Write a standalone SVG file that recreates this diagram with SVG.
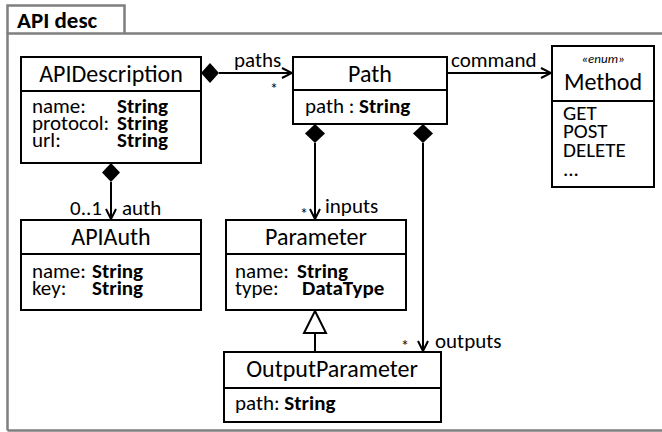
<svg xmlns="http://www.w3.org/2000/svg" width="662" height="432" viewBox="0 0 662 432">
<defs>
<style>
text{font-family:Carlito,Lato,sans-serif;fill:#000}
.t{font-size:24px}
.a{font-size:21px}
.l{font-size:21px}
.s{font-size:16px}
.b{font-weight:bold}
.box{fill:#fff;stroke:#000;stroke-width:2}
.ln{fill:none;stroke:#000;stroke-width:2}
.frame{fill:none;stroke:#7f7f7f;stroke-width:2.5}
</style>
<marker id="open" viewBox="0 0 12 12" refX="11" refY="6" markerWidth="12" markerHeight="12" markerUnits="userSpaceOnUse" orient="auto">
<path d="M1,1 L11,6 L1,11" fill="none" stroke="#000" stroke-width="2"/>
</marker>
</defs>
<rect width="662" height="432" fill="#fff"/>
<g id="frame">
<path class="frame" d="M7.5,430.5 L7.5,33.5 L665,33.5 M7.5,430.5 L665,430.5"/>
<path class="frame" d="M7.5,33.5 L7.5,5.5 L124.5,5.5 L124.5,33.5"/>
<text x="17" y="28" class="b" style="font-size:23px">API desc</text>
</g>
<g id="connectors">
<path class="ln" d="M219,73 L292,73" marker-end="url(#open)"/>
<path d="M201,73 L210,63 L219,73 L210,83 Z" fill="#000"/>
<text x="234" y="67" class="l">paths</text>
<text x="270" y="94" class="s">*</text>
<path class="ln" d="M447,73 L551,73" marker-end="url(#open)"/>
<text x="451" y="67" class="l">command</text>
<path class="ln" d="M111,182 L111,219" marker-end="url(#open)"/>
<path d="M111,163 L120,172.5 L111,182 L102,172.5 Z" fill="#000"/>
<text x="70" y="215" class="l">0..1</text>
<text x="122" y="215" class="l">auth</text>
<path class="ln" d="M315,143 L315,219" marker-end="url(#open)"/>
<path d="M315,124 L325,133.5 L315,143 L305,133.5 Z" fill="#000"/>
<text x="300" y="219" class="s">*</text>
<text x="325" y="213" class="l">inputs</text>
<path class="ln" d="M423,143 L423,351" marker-end="url(#open)"/>
<path d="M423,124 L433,133.5 L423,143 L413,133.5 Z" fill="#000"/>
<text x="401" y="351" class="s">*</text>
<text x="435" y="348" class="l">outputs</text>
<path class="ln" d="M315,333 L315,352"/>
<path d="M315,311 L326,333 L304,333 Z" fill="#fff" stroke="#000" stroke-width="2"/>
</g>
<g id="APIDescription">
<rect class="box" x="21" y="57" width="180" height="106"/>
<line class="ln" x1="21" y1="91" x2="201" y2="91"/>
<text x="111" y="82" class="t" text-anchor="middle">APIDescription</text>
<text x="32" y="113" class="a">name:</text><text x="117" y="113" class="a b">String</text>
<text x="32" y="130" class="a">protocol:</text><text x="117" y="130" class="a b">String</text>
<text x="32" y="147" class="a">url:</text><text x="117" y="147" class="a b">String</text>
</g>
<g id="Path">
<rect class="box" x="293" y="57" width="154" height="67"/>
<line class="ln" x1="293" y1="90" x2="447" y2="90"/>
<text x="370" y="82" class="t" text-anchor="middle">Path</text>
<text x="305" y="113" class="a">path : <tspan class="b">String</tspan></text>
</g>
<g id="Method">
<rect class="box" x="552" y="46" width="102" height="141"/>
<line class="ln" x1="552" y1="101" x2="654" y2="101"/>
<text x="603" y="63" text-anchor="middle" style="font-size:13px;font-style:italic">«enum»</text>
<text x="603" y="90" class="t" text-anchor="middle">Method</text>
<text x="563" y="120" class="a">GET</text>
<text x="563" y="138" class="a">POST</text>
<text x="563" y="157" class="a">DELETE</text>
<text x="563" y="176" class="a">...</text>
</g>
<g id="APIAuth">
<rect class="box" x="21" y="220" width="180" height="90"/>
<line class="ln" x1="21" y1="254" x2="201" y2="254"/>
<text x="111" y="245" class="t" text-anchor="middle">APIAuth</text>
<text x="32" y="278" class="a">name:</text><text x="92" y="278" class="a b">String</text>
<text x="32" y="295" class="a">key:</text><text x="92" y="295" class="a b">String</text>
</g>
<g id="Parameter">
<rect class="box" x="226" y="220" width="180" height="90"/>
<line class="ln" x1="226" y1="254" x2="406" y2="254"/>
<text x="316" y="245" class="t" text-anchor="middle">Parameter</text>
<text x="235" y="278" class="a">name:</text><text x="297" y="278" class="a b">String</text>
<text x="235" y="295" class="a">type:</text><text x="302" y="295" class="a b">DataType</text>
</g>
<g id="OutputParameter">
<rect class="box" x="224" y="352" width="217" height="70"/>
<line class="ln" x1="224" y1="388" x2="441" y2="388"/>
<text x="332" y="377" class="t" text-anchor="middle">OutputParameter</text>
<text x="235" y="410" class="a">path: <tspan class="b">String</tspan></text>
</g>
</svg>
